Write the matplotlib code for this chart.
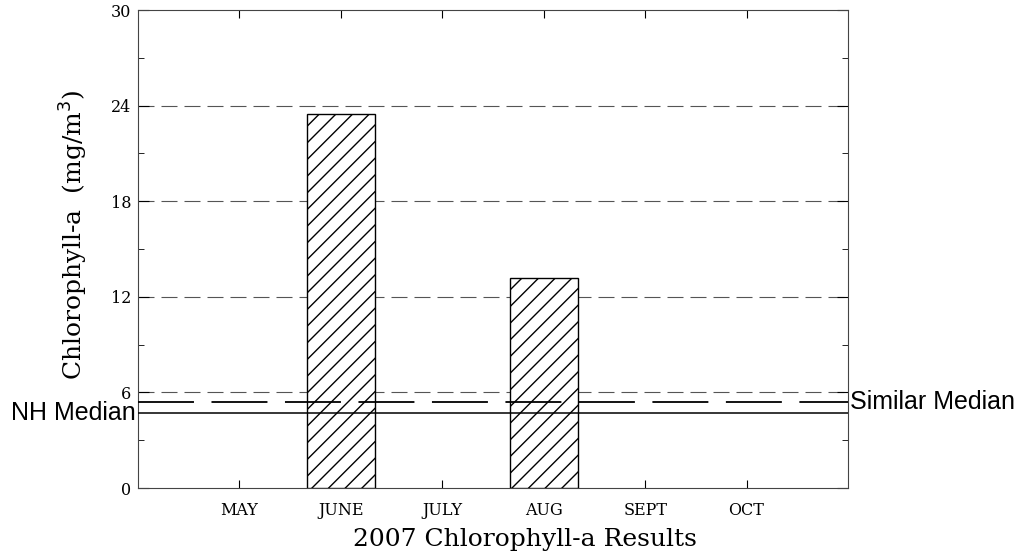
import numpy as np
import matplotlib
matplotlib.use("Agg")
import matplotlib.pyplot as plt
from matplotlib.ticker import MultipleLocator

mpl = matplotlib
mpl.rcParams['font.family'] = 'DejaVu Serif'
mpl.rcParams['hatch.linewidth'] = 1.0

months = ['MAY', 'JUNE', 'JULY', 'AUG', 'SEPT', 'OCT']
chla = [0, 23.5, 0, 13.2, 0, 0]
nh_median = 4.7
similar_median = 5.4
grid_levels = [6, 12, 18, 24]

fig = plt.figure(figsize=(10.26, 5.59), dpi=100)
ax = fig.add_axes([0.1345, 0.127, 0.692, 0.855])

x = np.arange(1, len(months) + 1)
for xi, v in zip(x, chla):
    if v > 0:
        ax.bar(xi, v, width=0.67, facecolor='white', edgecolor='black',
               hatch='//', linewidth=1.0, zorder=3)

for g in grid_levels:
    ax.axhline(g, color='#555555', linewidth=0.8, linestyle=(0, (14.4, 6.3)), zorder=1)

ax.axhline(similar_median, color='black', linewidth=1.3, linestyle=(0, (31, 9.7)), zorder=4)
ax.axhline(nh_median, color='black', linewidth=1.1, zorder=4)

ax.set_xlim(0, 7)
ax.set_ylim(0, 30)
ax.set_xticks(x)
ax.set_xticklabels(months)
ax.set_yticks([0, 6, 12, 18, 24, 30])
ax.yaxis.set_minor_locator(MultipleLocator(3))
ax.tick_params(axis='both', which='both', direction='in', top=True, right=True,
               labelsize=11.5)
ax.tick_params(axis='x', which='major', length=6, pad=10)
ax.tick_params(axis='y', which='major', length=8, pad=5)
ax.tick_params(axis='y', which='minor', length=4)
for s in ax.spines.values():
    s.set_color('#444444')

ax.set_xlabel('2007 Chlorophyll-a Results', fontsize=18)
ax.xaxis.set_label_coords((525 - 138) / 710, -0.083)
ax.set_ylabel('Chlorophyll-a  (mg/m$^3$)', fontsize=18)
ax.yaxis.set_label_coords(-0.067, 0.53)

ax.text(-0.003, nh_median, 'NH Median', transform=ax.get_yaxis_transform(),
        ha='right', va='center', fontsize=18, family='Liberation Sans')
ax.text(1.003, similar_median, 'Similar Median', transform=ax.get_yaxis_transform(),
        ha='left', va='center', fontsize=18, family='Liberation Sans')

fig.savefig('out.png', dpi=100)
